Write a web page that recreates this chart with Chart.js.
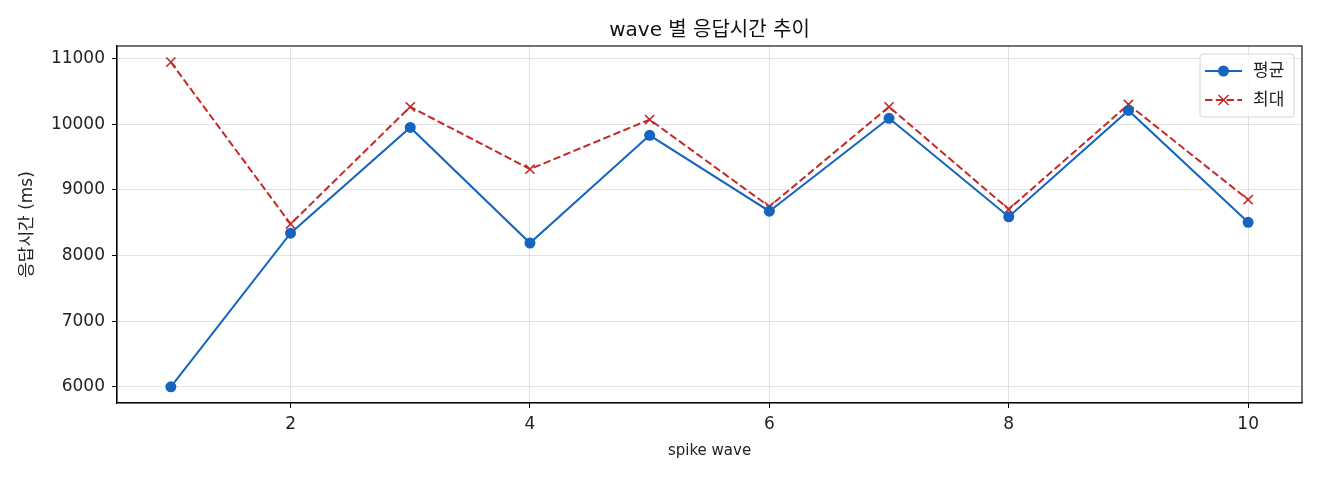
<!DOCTYPE html>
<html>
<head>
<meta charset="utf-8">
<script src="https://cdn.jsdelivr.net/npm/chart.js@4"></script>
<style>
  html, body { margin: 0; padding: 0; background: #fff; }
  #wrap { width: 1320px; height: 480px; }
</style>
</head>
<body>
<div id="wrap"><canvas id="myChart"></canvas></div>
<script>
//Chart data:
const waves = [1, 2, 3, 4, 5, 6, 7, 8, 9, 10];
const avgMs = [6000, 8340, 9950, 8190, 9830, 8675, 10090, 8590, 10210, 8505];
const maxMs = [10945, 8480, 10265, 9315, 10070, 8745, 10265, 8705, 10300, 8850];
const xTicks = [2, 4, 6, 8, 10];
const yTicks = [6000, 7000, 8000, 9000, 10000, 11000];

const FONT = "'DejaVu Sans', 'Noto Sans CJK KR', sans-serif";
const BLUE = '#1565c0';
const RED = '#c62828';

//Frame round the plot and a legend box in the top right corner:
const framePlugin = {
    id: 'frame',
    afterDraw(chart) {
        const {ctx, chartArea: a} = chart;
        ctx.save();
        ctx.strokeStyle = '#000';
        ctx.lineWidth = 1.1;
        ctx.strokeRect(a.left, a.top, a.right - a.left, a.bottom - a.top);

        const bx = a.right - 102, by = a.top + 8, bw = 94, bh = 63;
        ctx.fillStyle = 'rgba(255,255,255,0.8)';
        ctx.strokeStyle = '#d5d5d5';
        ctx.lineWidth = 1;
        ctx.beginPath();
        ctx.roundRect(bx, by, bw, bh, 3);
        ctx.fill();
        ctx.stroke();

        chart.data.datasets.forEach((ds, i) => {
            const y = by + 17 + i * 29;
            const x0 = bx + 5, x1 = bx + 42, xm = (x0 + x1) / 2;
            ctx.strokeStyle = ds.borderColor;
            ctx.lineWidth = 2;
            ctx.setLineDash(ds.borderDash || []);
            ctx.beginPath();
            ctx.moveTo(x0, y);
            ctx.lineTo(x1, y);
            ctx.stroke();
            ctx.setLineDash([]);
            if (ds.pointStyle === 'circle') {
                ctx.fillStyle = ds.borderColor;
                ctx.beginPath();
                ctx.arc(xm, y, 5.5, 0, Math.PI * 2);
                ctx.fill();
            } else {
                ctx.lineWidth = 1.6;
                ctx.beginPath();
                ctx.moveTo(xm - 5, y - 5); ctx.lineTo(xm + 5, y + 5);
                ctx.moveTo(xm - 5, y + 5); ctx.lineTo(xm + 5, y - 5);
                ctx.stroke();
            }
            ctx.fillStyle = '#222';
            ctx.font = `17px ${FONT}`;
            ctx.textBaseline = 'middle';
            ctx.fillText(ds.label, bx + 53, y + 1);
        });
        ctx.restore();
    }
};

const ctx = document.getElementById('myChart').getContext('2d');

const chart = new Chart(ctx, {
    type: 'line',
    data: {
        datasets: [{
            label: '평균',
            data: waves.map((w, i) => ({x: w, y: avgMs[i]})),
            borderColor: BLUE,
            backgroundColor: BLUE,
            borderWidth: 2,
            pointStyle: 'circle',
            pointRadius: 5.5,
            pointBorderWidth: 0,
            tension: 0
        }, {
            label: '최대',
            data: waves.map((w, i) => ({x: w, y: maxMs[i]})),
            borderColor: RED,
            backgroundColor: RED,
            borderWidth: 2,
            borderDash: [7.5, 3.3],
            pointStyle: 'crossRot',
            pointRadius: 6.5,
            pointBorderWidth: 1.6,
            tension: 0
        }]
    },
    options: {
        responsive: true,
        maintainAspectRatio: false,
        animation: false,
        layout: { padding: { left: 0, right: 18, top: 0, bottom: 0 } },
        plugins: {
            legend: { display: false },
            tooltip: { enabled: false },
            title: {
                display: true,
                fullSize: false,
                text: 'wave 별 응답시간 추이',
                color: '#111',
                font: { family: FONT, size: 20, weight: 'normal' },
                padding: { top: 19, bottom: 3 }
            }
        },
        scales: {
            x: {
                type: 'linear',
                min: 0.55,
                max: 10.45,
                afterBuildTicks: s => { s.ticks = xTicks.map(v => ({value: v})); },
                afterFit: s => { s.height = 77; },
                grid: { color: 'rgba(176,176,176,0.35)', lineWidth: 1, tickColor: '#000', tickLength: 5 },
                border: { color: '#000', width: 1.1 },
                ticks: { color: '#222', font: { family: FONT, size: 17 }, padding: 6, maxRotation: 0 },
                title: {
                    display: true,
                    text: 'spike wave',
                    color: '#222',
                    font: { family: FONT, size: 15 },
                    padding: { top: 0, bottom: 20 }
                }
            },
            y: {
                min: 5753,
                max: 11191,
                afterBuildTicks: s => { s.ticks = yTicks.map(v => ({value: v})); },
                afterFit: s => { s.width = 117; },
                grid: { color: 'rgba(176,176,176,0.35)', lineWidth: 1, tickColor: '#000', tickLength: 5 },
                border: { color: '#000', width: 1.1 },
                ticks: { color: '#222', font: { family: FONT, size: 17 }, padding: 7, callback: v => String(v) },
                title: {
                    display: true,
                    text: '응답시간 (ms)',
                    color: '#222',
                    font: { family: FONT, size: 17 },
                    padding: { top: 17.8, bottom: 0 }
                }
            }
        }
    },
    plugins: [framePlugin]
});
</script>
</body>
</html>
